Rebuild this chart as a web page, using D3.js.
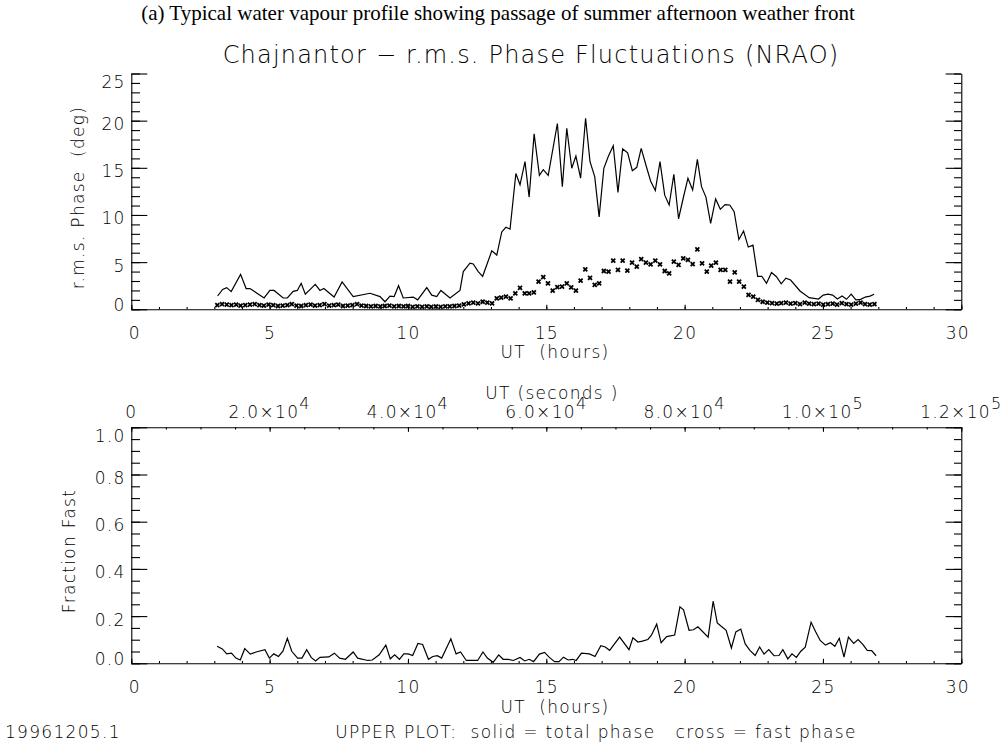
<!DOCTYPE html>
<html>
<head>
<meta charset="utf-8">
<script src="https://cdn.jsdelivr.net/npm/d3@7"></script>
<style>
  body { margin: 0; background: #fff; }
  svg { display: block; }
  .hershey { font-family: "DejaVu Sans", sans-serif; font-weight: 200; fill: #000; white-space: pre; letter-spacing: 1.3px; }
  .serif { font-family: "Liberation Serif", "Times New Roman", serif; fill: #000; }
  .axis path, .axis line { stroke: #000; stroke-width: 1.1; }
</style>
</head>
<body>
<div id="chart"></div>
<script>
// tick labels
const hourTicks = [0, 5, 10, 15, 20, 25, 30];
const phaseTicks = [0, 5, 10, 15, 20, 25];
const fracTicks = [0, 0.2, 0.4, 0.6, 0.8, 1.0];
const secTicks = [0, 2e4, 4e4, 6e4, 8e4, 1e5, 1.2e5];
const secLabels = [["0", ""], ["2.0\u00d710", "4"], ["4.0\u00d710", "4"], ["6.0\u00d710", "4"],
                   ["8.0\u00d710", "4"], ["1.0\u00d710", "5"], ["1.2\u00d710", "5"]];

// upper plot, solid line: total phase (deg) vs UT (hours)
const totalUT = [3.12, 3.30, 3.45, 3.61, 3.95, 4.15, 4.29, 4.80, 5.01, 5.16, 5.49, 5.64, 5.85, 6.00,
  6.14, 6.29, 6.65, 6.82, 6.96, 7.33, 7.62, 8.02, 8.63, 8.99, 9.17, 9.35, 9.50, 9.66, 9.83, 10.19,
  10.35, 10.68, 10.86, 11.04, 11.19, 11.52, 11.88, 12.00, 12.24, 12.36, 12.54, 12.70, 13.03, 13.21,
  13.39, 13.54, 13.69, 13.90, 14.05, 14.23, 14.38, 14.56, 14.75, 14.89, 15.07, 15.40, 15.58, 15.74,
  15.92, 16.07, 16.24, 16.42, 16.58, 16.75, 16.91, 17.08, 17.24, 17.42, 17.59, 17.76, 17.94, 18.11,
  18.27, 18.43, 18.60, 18.77, 18.94, 19.11, 19.28, 19.44, 19.61, 19.78, 19.95, 20.12, 20.29, 20.46,
  20.61, 20.77, 20.94, 21.12, 21.29, 21.46, 21.63, 21.79, 21.96, 22.13, 22.30, 22.47, 22.64, 22.79,
  22.96, 23.14, 23.32, 23.49, 23.66, 23.83, 24.17, 24.50, 24.84, 25.01, 25.18, 25.35, 25.52, 25.69,
  25.85, 26.02, 26.19, 26.36, 26.53, 26.70, 26.85];
const totalPhase = [1.41, 2.1, 2.3, 1.87, 3.7, 2.2, 2.2, 1.2, 2.0, 2.0, 1.2, 1.2, 1.9, 2.0,
  2.75, 1.6, 2.65, 2.0, 2.2, 1.3, 2.9, 1.35, 1.7, 1.35, 0.8, 1.4, 1.35, 2.5, 1.2, 1.3,
  1.0, 2.3, 1.5, 1.35, 2.0, 1.2, 2.0, 4.0, 4.9, 4.8, 4.0, 3.5, 6.2, 5.75,
  8.2, 8.7, 8.5, 14.4, 13.2, 15.65, 11.9, 18.6, 14.2, 14.8, 14.2, 19.7, 13.0, 19.2,
  14.95, 16.25, 13.9, 20.25, 15.65, 14.06, 9.8, 14.95, 16.2, 17.35, 12.4, 17.0, 16.6, 14.7,
  15.05, 17.07, 15.3, 13.6, 12.6, 15.65, 12.1, 11.06, 14.3, 9.6, 11.8, 13.9, 12.65, 15.9,
  13.0, 11.9, 9.1, 11.7, 10.6, 11.1, 11.06, 10.35, 7.4, 8.3, 6.6, 6.8, 3.5, 3.5,
  2.75, 3.9, 3.45, 2.7, 3.3, 3.1, 1.94, 1.23, 1.09, 1.5, 1.6, 1.5, 1.09, 1.4,
  1.06, 1.6, 0.99, 1.06, 1.3, 1.4, 1.6];

// upper plot, crosses: fast phase (deg) vs UT (hours)
const fastUT = [3.11, 3.28, 3.45, 3.62, 3.79, 3.95, 4.12, 4.29, 4.46, 4.63, 4.79, 4.96, 5.13, 5.30,
  5.47, 5.64, 5.80, 5.97, 6.14, 6.31, 6.48, 6.64, 6.81, 6.98, 7.15, 7.32, 7.48, 7.65, 7.82, 7.99,
  8.16, 8.32, 8.49, 8.66, 8.83, 9.00, 9.16, 9.33, 9.50, 9.67, 9.84, 10.00, 10.17, 10.34, 10.51,
  10.68, 10.84, 11.01, 11.18, 11.35, 11.51, 11.68, 11.85, 12.02, 12.19, 12.36, 12.53, 12.70, 12.87,
  13.04, 13.21, 13.37, 13.54, 13.71, 13.88, 14.05, 14.22, 14.38, 14.55, 14.72, 14.89, 15.06, 15.23,
  15.40, 15.57, 15.74, 15.90, 16.07, 16.24, 16.41, 16.58, 16.75, 16.91, 17.08, 17.25, 17.42, 17.59,
  17.76, 17.93, 18.10, 18.27, 18.43, 18.60, 18.77, 18.94, 19.11, 19.28, 19.44, 19.61, 19.78, 19.95,
  20.12, 20.29, 20.46, 20.63, 20.80, 20.96, 21.13, 21.30, 21.47, 21.64, 21.81, 21.97, 22.14, 22.31,
  22.48, 22.65, 22.82, 22.99, 23.16, 23.33, 23.49, 23.66, 23.83, 24.00, 24.17, 24.34, 24.50, 24.67,
  24.84, 25.01, 25.18, 25.35, 25.51, 25.68, 25.85, 26.02, 26.19, 26.36, 26.52, 26.69, 26.86];
const fastPhase = [0.45, 0.55, 0.5, 0.45, 0.5, 0.4, 0.45, 0.5, 0.55, 0.45, 0.4, 0.5, 0.45, 0.35,
  0.4, 0.45, 0.55, 0.4, 0.35, 0.45, 0.5, 0.4, 0.45, 0.55, 0.4, 0.45, 0.5, 0.35, 0.4, 0.45,
  0.55, 0.4, 0.35, 0.3, 0.35, 0.3, 0.35, 0.4, 0.3, 0.35, 0.3, 0.35, 0.25, 0.3, 0.25,
  0.3, 0.25, 0.3, 0.25, 0.3, 0.3, 0.35, 0.4, 0.53, 0.63, 0.7, 0.63, 0.8, 0.7,
  0.63, 1.17, 1.23, 1.34, 1.17, 1.7, 2.26, 1.7, 1.7, 1.8, 2.93, 3.4, 2.76, 1.97,
  2.36, 2.4, 2.76, 2.33, 1.97, 3.03, 4.24, 3.32, 2.58, 2.76, 4.06, 3.99, 5.15, 4.17,
  5.15, 4.1, 4.94, 4.52, 5.33, 4.94, 4.77, 5.15, 4.77, 4.06, 3.82, 5.05, 4.7, 5.41,
  5.23, 4.8, 6.36, 4.88, 3.99, 4.62, 4.94, 4.17, 4.17, 2.93, 3.92, 2.93, 2.4, 1.52,
  1.34, 0.99, 0.8, 0.7, 0.65, 0.6, 0.65, 0.7, 0.6, 0.65, 0.55, 0.7, 0.6, 0.55,
  0.6, 0.5, 0.55, 0.6, 0.5, 0.65, 0.55, 0.5, 0.6, 0.7, 0.55, 0.5, 0.55];

// lower plot: fraction fast vs UT (hours)
const fracUT = [3.10, 3.29, 3.45, 3.62, 3.78, 3.94, 4.10, 4.30, 4.51, 4.83, 4.99, 5.15, 5.32, 5.48,
  5.64, 5.80, 6.01, 6.17, 6.34, 6.50, 6.66, 6.82, 7.14, 7.34, 7.53, 7.74, 8.02, 8.18, 8.55, 8.71,
  8.96, 9.20, 9.36, 9.52, 9.69, 9.85, 10.01, 10.17, 10.36, 10.53, 10.74, 10.90, 11.06, 11.22, 11.55,
  11.74, 11.90, 12.11, 12.52, 12.71, 12.87, 13.08, 13.28, 13.44, 13.62, 13.81, 14.05, 14.22, 14.38,
  14.54, 14.75, 14.94, 15.11, 15.30, 15.46, 15.62, 15.79, 15.95, 16.08, 16.27, 16.56, 16.76, 16.97,
  17.13, 17.29, 17.65, 17.99, 18.13, 18.31, 18.47, 18.67, 18.80, 18.99, 19.15, 19.35, 19.64, 19.83,
  19.96, 20.16, 20.32, 20.48, 20.85, 21.03, 21.18, 21.30, 21.50, 21.69, 21.85, 22.03, 22.19, 22.36,
  22.55, 22.71, 22.87, 23.04, 23.23, 23.41, 23.55, 23.73, 23.88, 24.04, 24.20, 24.36, 24.57, 24.74,
  24.90, 25.09, 25.27, 25.43, 25.59, 25.76, 25.92, 26.11, 26.27, 26.44, 26.60, 26.76, 26.92];
const fracFast = [0.072, 0.061, 0.040, 0.043, 0.022, 0.014, 0.062, 0.039, 0.048, 0.058, 0.022, 0.040, 0.029, 0.051,
  0.106, 0.051, 0.022, 0.022, 0.058, 0.025, 0.010, 0.025, 0.027, 0.043, 0.022, 0.017, 0.048, 0.022, 0.012, 0.014,
  0.036, 0.077, 0.019, 0.036, 0.017, 0.040, 0.040, 0.033, 0.084, 0.080, 0.017, 0.029, 0.032, 0.022, 0.104,
  0.040, 0.048, 0.012, 0.012, 0.048, 0.022, 0.004, 0.036, 0.017, 0.017, 0.012, 0.025, 0.010, 0.017,
  0.007, 0.039, 0.046, 0.025, 0.007, 0.007, 0.026, 0.014, 0.017, 0.012, 0.043, 0.040, 0.029, 0.075,
  0.069, 0.055, 0.111, 0.058, 0.108, 0.090, 0.094, 0.101, 0.119, 0.166, 0.087, 0.113, 0.120, 0.239,
  0.227, 0.140, 0.142, 0.155, 0.111, 0.263, 0.171, 0.159, 0.140, 0.065, 0.133, 0.145, 0.082, 0.055,
  0.033, 0.069, 0.039, 0.058, 0.032, 0.033, 0.058, 0.019, 0.040, 0.025, 0.051, 0.068, 0.174, 0.133,
  0.097, 0.077, 0.087, 0.072, 0.106, 0.026, 0.111, 0.084, 0.101, 0.080, 0.055, 0.054, 0.032];

document.addEventListener('DOMContentLoaded', () => {
    const W = 1006, H = 751;
    const svg = d3.select("#chart").append("svg")
        .attr("width", W).attr("height", H);

    // plot boxes (pixels)
    const left = 131.3, right = 961.3;
    const top1 = 73.5, bot1 = 309.3;
    const top2 = 427.3, bot2 = 663.3;

    const x = d3.scaleLinear().domain([0, 30]).range([left, right]);
    const xSec = d3.scaleLinear().domain([0, 1.2e5]).range([left, right]);
    const yTop = d3.scaleLinear().domain([0, 25]).range([bot1, top1]);
    const yBot = d3.scaleLinear().domain([0, 1]).range([bot2, top2]);

    const fs = 17;

    function cleanAxis(g) {
        g.attr("class", "axis").attr("font-family", null).attr("font-size", null);
        g.selectAll("text").attr("class", "hershey").style("font-size", fs + "px");
    }

    // ---- hours axis (bottom of each panel)
    function hoursAxis(yPos) {
        svg.append("g").attr("transform", `translate(0,${yPos})`)
            .call(d3.axisBottom(x).tickValues(d3.range(0, 31, 1)).tickSize(-2.3).tickSizeOuter(0).tickFormat(""))
            .call(cleanAxis);
        const g = svg.append("g").attr("transform", `translate(0,${yPos})`)
            .call(d3.axisBottom(x).tickValues(hourTicks).tickSize(-4.5).tickSizeOuter(0).tickFormat(d3.format("d")))
            .call(cleanAxis);
        g.select(".domain").remove();
        g.selectAll("text").attr("y", 30).attr("dy", null)
            .attr("x", (d, i) => i === 0 ? 3 : (i === hourTicks.length - 1 ? -4 : 0));
    }

    // ---- vertical axes with inward ticks on both sides
    function valueAxes(y, ticks, minorStep, fmt) {
        const minor = d3.range(ticks[0], ticks[ticks.length - 1] + minorStep / 2, minorStep);
        // left
        svg.append("g").attr("transform", `translate(${left},0)`)
            .call(d3.axisLeft(y).tickValues(minor).tickSize(-8.7).tickSizeOuter(0).tickFormat(""))
            .call(cleanAxis);
        const gl = svg.append("g").attr("transform", `translate(${left},0)`)
            .call(d3.axisLeft(y).tickValues(ticks).tickSize(-16).tickSizeOuter(0).tickFormat(fmt))
            .call(cleanAxis);
        gl.select(".domain").remove();
        gl.selectAll("text").attr("x", -5.7).attr("dy", null)
            .attr("y", (d, i) => 7.5 + (i === 0 ? -6 : (i === ticks.length - 1 ? 6.5 : 1.5)));
        // right
        svg.append("g").attr("transform", `translate(${right},0)`)
            .call(d3.axisRight(y).tickValues(minor).tickSize(-7.3).tickSizeOuter(0).tickFormat(""))
            .call(cleanAxis);
        const gr = svg.append("g").attr("transform", `translate(${right},0)`)
            .call(d3.axisRight(y).tickValues(ticks).tickSize(-15.7).tickSizeOuter(0).tickFormat(""))
            .call(cleanAxis);
        gr.select(".domain").remove();
    }

    // ================= upper panel
    hoursAxis(bot1);
    valueAxes(yTop, phaseTicks, 1, d3.format("d"));

    svg.append("path")
        .datum(totalUT.map((t, i) => [t, totalPhase[i]]))
        .attr("fill", "none").attr("stroke", "#000").attr("stroke-width", 1.2)
        .attr("stroke-linejoin", "miter")
        .attr("d", d3.line().x(d => x(d[0])).y(d => yTop(d[1])));

    const s = 2;
    svg.append("g").selectAll("path")
        .data(fastUT.map((t, i) => [t, fastPhase[i]]))
        .join("path")
        .attr("transform", d => `translate(${x(d[0])},${yTop(d[1])})`)
        .attr("d", `M${-s},${-s}L${s},${s}M${-s},${s}L${s},${-s}`)
        .attr("stroke", "#000").attr("stroke-width", 1.8).attr("fill", "none");

    // ================= lower panel
    hoursAxis(bot2);
    valueAxes(yBot, fracTicks, 0.05, d3.format(".1f"));

    // top axis in seconds
    svg.append("g").attr("transform", `translate(0,${top2})`)
        .call(d3.axisTop(xSec).tickValues(d3.range(0, 1.2e5 + 1, 5000)).tickSize(-2.3).tickSizeOuter(0).tickFormat(""))
        .call(cleanAxis);
    const gs = svg.append("g").attr("transform", `translate(0,${top2})`)
        .call(d3.axisTop(xSec).tickValues(secTicks).tickSize(-4.5).tickSizeOuter(0).tickFormat(""))
        .call(cleanAxis);
    gs.select(".domain").remove();

    svg.append("g").selectAll("text")
        .data(secTicks)
        .join("text")
        .attr("class", "hershey")
        .attr("x", d => xSec(d))
        .attr("y", top2 - 9.5)
        .attr("text-anchor", "middle")
        .style("font-size", fs + "px")
        .each(function (d, i) {
            const t = d3.select(this);
            t.append("tspan").text(secLabels[i][0]);
            if (secLabels[i][1]) {
                t.append("tspan").attr("dy", -9).style("font-size", "16px").text(secLabels[i][1]);
            }
        });

    svg.append("path")
        .datum(fracUT.map((t, i) => [t, fracFast[i]]))
        .attr("fill", "none").attr("stroke", "#000").attr("stroke-width", 1.2)
        .attr("d", d3.line().x(d => x(d[0])).y(d => yBot(d[1])));

    // ================= texts
    const txt = (tx, ty, str, size, anchor, rot) => {
        const t = svg.append("text").attr("class", "hershey")
            .attr("text-anchor", anchor || "middle")
            .style("font-size", size + "px")
            .text(str);
        if (rot) t.attr("transform", `translate(${tx},${ty}) rotate(-90)`);
        else t.attr("x", tx).attr("y", ty);
        return t;
    };

    svg.append("text").attr("class", "serif")
        .attr("x", 498).attr("y", 20)
        .attr("text-anchor", "middle")
        .style("font-size", "21px")
        .text("(a) Typical water vapour profile showing passage of summer afternoon weather front");

    txt(531, 63, "Chajnantor \u2212 r.m.s. Phase Fluctuations (NRAO)", 24).style("letter-spacing", "1.2px");
    txt(555, 358, "UT  (hours)", fs);
    txt(84, 197.5, "r.m.s. Phase  (deg)", fs, "middle", true);
    txt(552, 399, "UT (seconds )", fs);
    txt(75, 551, "Fraction Fast", fs, "middle", true);
    txt(555, 713, "UT  (hours)", fs);
    txt(5, 738, "19961205.1", fs, "start");
    txt(596, 738, "UPPER PLOT:  solid = total phase   cross = fast phase", fs);
});
</script>
</body>
</html>
